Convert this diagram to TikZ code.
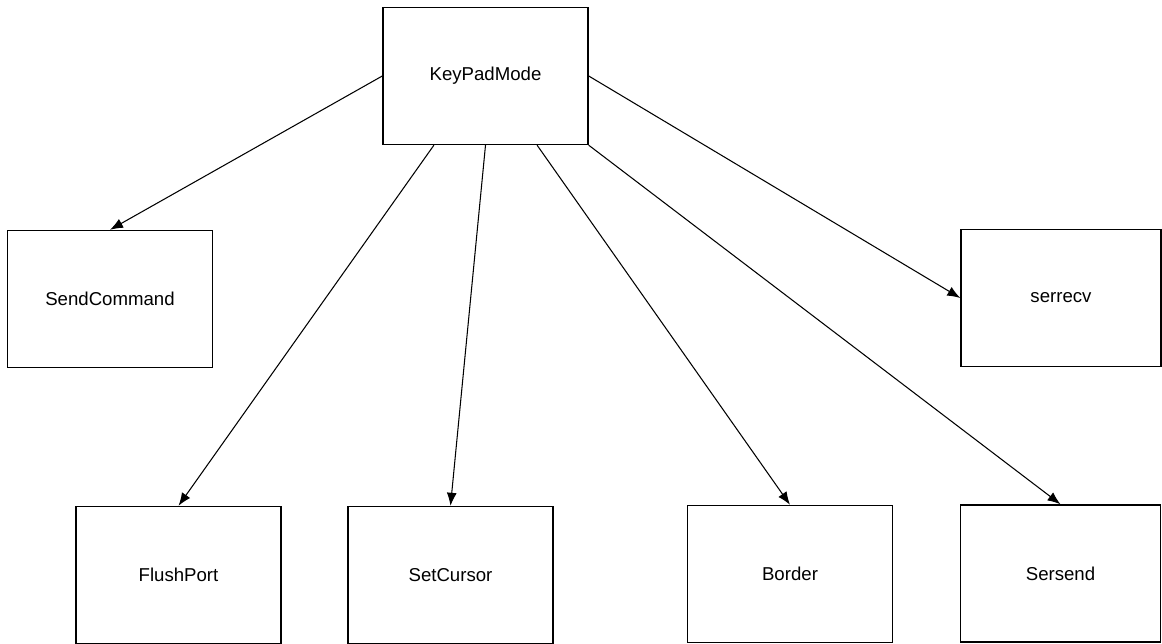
\documentclass[tikz,border=0pt]{standalone}
\usepackage{fontspec}
\setmainfont{Liberation Sans}
\usetikzlibrary{
    arrows.meta,
    calc
}

\begin{document}
\begin{tikzpicture}[
    func/.style={draw,line width=0.8pt,minimum width=4.1cm,minimum height=2.74cm,
        inner sep=0pt,font=\fontsize{10.6}{12}\selectfont},
    calls/.style={-{Latex[length=2.6mm,width=2mm]},line width=0.6pt}
]
\useasboundingbox (0,0) rectangle (23.24,12.88);

\node[func] (kpm) at (9.71,11.36) {KeyPadMode};

\node[func] (sendcmd) at (2.2,6.9) {SendCommand};
\node[func,minimum width=4.0cm] (serrecv) at (21.22,6.92) {serrecv};

\node[func] (flush) at (3.57,1.38) {FlushPort};
\node[func] (setcur) at (9.01,1.38) {SetCursor};
\node[func] (border) at (15.8,1.40) {Border};
\node[func,minimum width=4.0cm] (sersend) at (21.21,1.41) {Sersend};

\draw[calls] (kpm.west) -- (sendcmd.north);
\draw[calls] ($(kpm.south west)!0.25!(kpm.south east)$) -- (flush.north);
\draw[calls] (kpm.south) -- (setcur.north);
\draw[calls] ($(kpm.south west)!0.75!(kpm.south east)$) -- (border.north);
\draw[calls] (kpm.south east) -- (sersend.north);
\draw[calls] (kpm.east) -- (serrecv.west);
\end{tikzpicture}
\end{document}
